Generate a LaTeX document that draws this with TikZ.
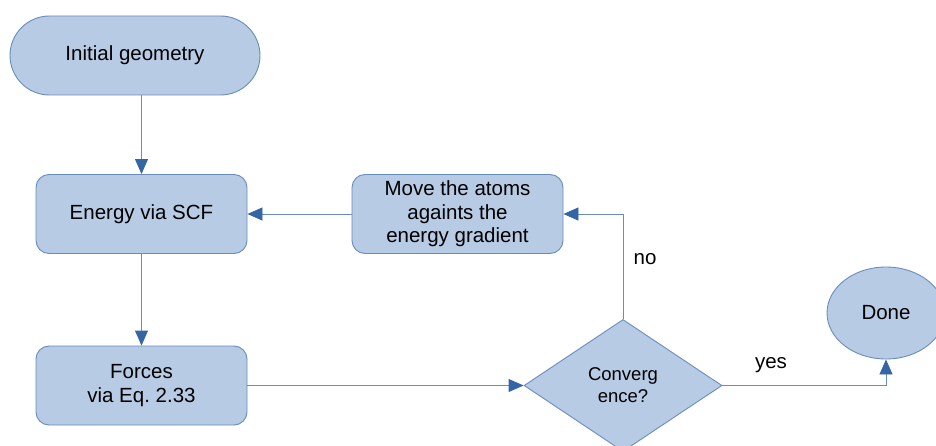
\documentclass[tikz,border=0pt]{standalone}
\usepackage{fontspec}
\setmainfont{Liberation Sans}
\usetikzlibrary{shapes.geometric,arrows.meta}
\definecolor{boxfill}{RGB}{183,203,228}
\definecolor{boxline}{RGB}{105,140,190}
\definecolor{arrowc}{RGB}{52,101,164}
\begin{document}
\begin{tikzpicture}[x=1pt,y=-1pt,
  base/.style={draw=boxline, fill=boxfill, line width=0.9pt, font=\fontsize{20.5}{23.5}\selectfont, align=center, inner sep=0pt},
  procbox/.style={base, rounded corners=13pt, minimum width=211pt, minimum height=79pt},
  conn/.style={draw=boxline, line width=0.9pt, -{Triangle[length=15pt,width=13pt,color=arrowc]}},
  lbl/.style={font=\fontsize{20.5}{24}\selectfont, inner sep=0pt}]
\useasboundingbox (0,0) rectangle (936,446);
\clip (0,0) rectangle (936,446);
\node[base, rounded corners=39.5pt, minimum width=250pt, minimum height=79pt] (init) at (135,55.5) {Initial geometry};
\node[procbox] (energy) at (141.5,214) {Energy via SCF};
\node[procbox] (move) at (457.5,214) {Move the atoms\\againts the\\energy gradient};
\node[procbox] (forces) at (141.5,385.5) {Forces\\via Eq.\ 2.33};
\node[base, diamond, minimum width=198pt, minimum height=132pt, font=\fontsize{18.5}{22}\selectfont] (conv) at (623,385.5) {Converg\\ence?};
\node[base, ellipse, minimum width=118pt, minimum height=92pt] (done) at (886,313) {Done};
\draw[conn] (energy.north |- init.south) -- (energy.north);
\draw[conn] (energy.south) -- (forces.north);
\draw[conn] (move.west) -- (energy.east);
\draw[conn] (forces.east) -- (conv.west);
\draw[conn] (conv.north) |- (move.east);
\draw[conn] (conv.east) -| (done.south);
\node[lbl] (nolbl) at (645,259) {no};
\node[lbl] (yeslbl) at (771,365) {yes};
\end{tikzpicture}
\end{document}
